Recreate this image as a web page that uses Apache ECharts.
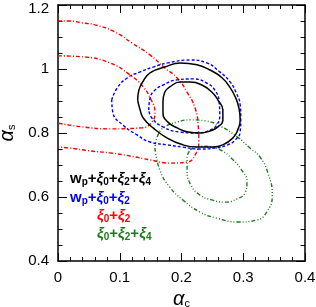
<!DOCTYPE html>
<html><head><meta charset="utf-8">
<script src="https://cdn.jsdelivr.net/npm/echarts@6/dist/echarts.min.js"></script>
<style>html,body{margin:0;padding:0;background:#fff}#c{width:316px;height:307px}</style>
</head><body><div id="c"></div>
<script>
const xTickLabels = ['0','0.1','0.2','0.3','0.4'];
const yTickLabels = ['0.4','0.6','0.8','1','1.2'];
// contours [alpha_c, alpha_s]
const blackOuter = [[0.129,0.903],[0.131,0.934],[0.136,0.956],[0.149,0.988],[0.173,1.006],[0.198,1.019],[0.225,1.013],[0.246,0.997],[0.266,0.972],[0.279,0.941],[0.288,0.909],[0.293,0.878],[0.295,0.841],[0.291,0.809],[0.283,0.784],[0.267,0.763],[0.251,0.756],[0.225,0.756],[0.202,0.763],[0.177,0.784],[0.154,0.816],[0.138,0.847],[0.133,0.872],[0.129,0.903]];
const blackInner = [[0.170,0.897],[0.173,0.928],[0.181,0.944],[0.198,0.959],[0.214,0.959],[0.233,0.95],[0.249,0.928],[0.259,0.903],[0.267,0.872],[0.267,0.841],[0.259,0.819],[0.246,0.806],[0.230,0.8],[0.211,0.803],[0.193,0.816],[0.178,0.834],[0.170,0.863],[0.170,0.897]];
const blueOuter = [[0.087,0.903],[0.096,0.941],[0.112,0.972],[0.133,0.991],[0.154,1.006],[0.178,1.019],[0.214,1.028],[0.241,1.019],[0.262,0.991],[0.279,0.959],[0.288,0.928],[0.295,0.888],[0.296,0.847],[0.295,0.803],[0.287,0.778],[0.275,0.763],[0.254,0.753],[0.230,0.75],[0.202,0.756],[0.177,0.763],[0.149,0.772],[0.128,0.794],[0.105,0.825],[0.089,0.863],[0.087,0.903]];
const blueInner = [[0.147,0.872],[0.149,0.909],[0.157,0.934],[0.170,0.95],[0.193,0.966],[0.219,0.969],[0.241,0.956],[0.254,0.934],[0.261,0.897],[0.262,0.856],[0.257,0.825],[0.246,0.809],[0.225,0.8],[0.198,0.803],[0.170,0.819],[0.152,0.847],[0.147,0.872]];
const redOuter = [[0,1.15],[0.019,1.15],[0.039,1.144],[0.060,1.138],[0.092,1.116],[0.120,1.081],[0.149,1.044],[0.173,1.003],[0.193,0.972],[0.209,0.928],[0.222,0.878],[0.227,0.825],[0.228,0.778],[0.222,0.731],[0.209,0.709],[0.181,0.706],[0.149,0.716],[0.117,0.728],[0.084,0.738],[0.052,0.744],[0.019,0.753],[0,0.756]];
const redInner = [[0,1.041],[0.040,1.038],[0.084,1.019],[0.117,0.981],[0.138,0.944],[0.151,0.903],[0.157,0.866],[0.152,0.834],[0.136,0.816],[0.084,0.813],[0.040,0.819],[0,0.831]];
const greenOuter = [[0.157,0.753],[0.165,0.684],[0.181,0.631],[0.202,0.591],[0.230,0.553],[0.257,0.534],[0.292,0.522],[0.322,0.528],[0.338,0.553],[0.347,0.606],[0.340,0.675],[0.327,0.725],[0.311,0.753],[0.290,0.788],[0.262,0.822],[0.238,0.838],[0.214,0.841],[0.193,0.834],[0.173,0.819],[0.162,0.794],[0.157,0.753]];
const greenInner = [[0.214,0.747],[0.230,0.759],[0.249,0.756],[0.266,0.744],[0.282,0.719],[0.296,0.688],[0.306,0.647],[0.303,0.613],[0.290,0.594],[0.270,0.584],[0.249,0.591],[0.230,0.606],[0.215,0.638],[0.209,0.684],[0.209,0.722],[0.214,0.747]];

const FONT = '"Liberation Sans", Arial, sans-serif';
const chart = echarts.init(document.getElementById('c'), null, {renderer:'canvas'});
const axisNameRich = {
  a:{fontSize:20, fontStyle:'italic', fontFamily:FONT, color:'#000', lineHeight:20},
  s:{fontSize:11, fontFamily:FONT, color:'#000', verticalAlign:'bottom', lineHeight:10}
};
function mkX(pos, labels){
  return {type:'value', position:pos, min:0, max:0.4, interval:0.1,
    axisLine:{show:true, onZero:false, lineStyle:{color:'#000', width:1.5}},
    axisTick:{show:true, inside:true, length:8, lineStyle:{color:'#000', width:1}},
    minorTick:{show:true, splitNumber:5, length:4, lineStyle:{color:'#000', width:1}},
    splitLine:{show:false}, minorSplitLine:{show:false},
    axisLabel:{show:labels, fontSize:15, color:'#000', fontFamily:FONT, margin:9,
      formatter:(v)=>xTickLabels[Math.round(v/0.1)]},
    name: labels ? '{a|α}{s|c}' : '', nameLocation:'middle', nameGap:27,
    nameTextStyle:{rich:axisNameRich}
  };
}
function mkY(pos, labels){
  return {type:'value', position:pos, min:0.4, max:1.2, interval:0.2,
    axisLine:{show:true, onZero:false, lineStyle:{color:'#000', width:1.5}},
    axisTick:{show:true, inside:true, length:9, lineStyle:{color:'#000', width:1}},
    minorTick:{show:true, splitNumber:4, length:4.5, lineStyle:{color:'#000', width:1}},
    splitLine:{show:false}, minorSplitLine:{show:false},
    axisLabel:{show:labels, fontSize:15, color:'#000', fontFamily:FONT, margin:9,
      formatter:(v)=>{const i=Math.round((v-0.4)/0.2); const t=yTickLabels[i]; return i===yTickLabels.length-1 ? '{top|'+t+'}' : t;},
      rich:{top:{fontSize:15, color:'#000', fontFamily:FONT, padding:[7,0,0,0]}}},
    name: labels ? '{a|α}{s|s}' : '', nameLocation:'middle', nameGap:37, nameRotate:90,
    nameTextStyle:{rich:axisNameRich}
  };
}
function line(data, color, type, width){
  return {type:'line', data:data, xAxisIndex:0, yAxisIndex:0, symbol:'none', smooth:0.5,
    lineStyle:{color:color, width:width, type:type}, silent:true, animation:false, clip:true};
}
const green = '#1e7a1e';
const dashBlue = [3,2];
const dashRed = [4,2,1,2];
const dashGreen = [4,2,1,2,1,2,1,2];
function rich(col){
  return {
    m:{fill:col, fontSize:15, fontWeight:'bold', fontFamily:FONT, lineHeight:18},
    g:{fill:col, fontSize:15, fontWeight:'bold', fontStyle:'italic', fontFamily:FONT, lineHeight:18},
    s:{fill:col, fontSize:10, fontWeight:'bold', fontFamily:FONT, verticalAlign:'bottom', lineHeight:7}
  };
}
chart.setOption({
  animation:false,
  grid:{left:58, right:11, top:5, bottom:46, containLabel:false, outerBoundsMode:'none'},
  xAxis:[mkX('bottom', true), mkX('top', false)],
  yAxis:[mkY('left', true), mkY('right', false)],
  series:[
    line(redOuter,'#ff0000',dashRed,1.4),
    line(redInner,'#ff0000',dashRed,1.4),
    line(greenOuter,green,dashGreen,1.4),
    line(greenInner,green,dashGreen,1.4),
    line(blueOuter,'#0000ff',dashBlue,1.4),
    line(blueInner,'#0000ff',dashBlue,1.4),
    line(blackOuter,'#000000','solid',1.5),
    line(blackInner,'#000000','solid',1.5)
  ],
  graphic:[
    {type:'text', left:70, top:171, style:{text:'{m|w}{s|p}{m|+}{g|ξ}{s|0}{m|+}{g|ξ}{s|2}{m|+}{g|ξ}{s|4}', rich:rich('#000')}},
    {type:'text', left:70, top:190, style:{text:'{m|w}{s|p}{m|+}{g|ξ}{s|0}{m|+}{g|ξ}{s|2}', rich:rich('#0000ff')}},
    {type:'text', left:97, top:208, style:{text:'{g|ξ}{s|0}{m|+}{g|ξ}{s|2}', rich:rich('#ff0000')}},
    {type:'text', left:97, top:226, style:{text:'{g|ξ}{s|0}{m|+}{g|ξ}{s|2}{m|+}{g|ξ}{s|4}', rich:rich(green)}}
  ]
});
</script></body></html>
